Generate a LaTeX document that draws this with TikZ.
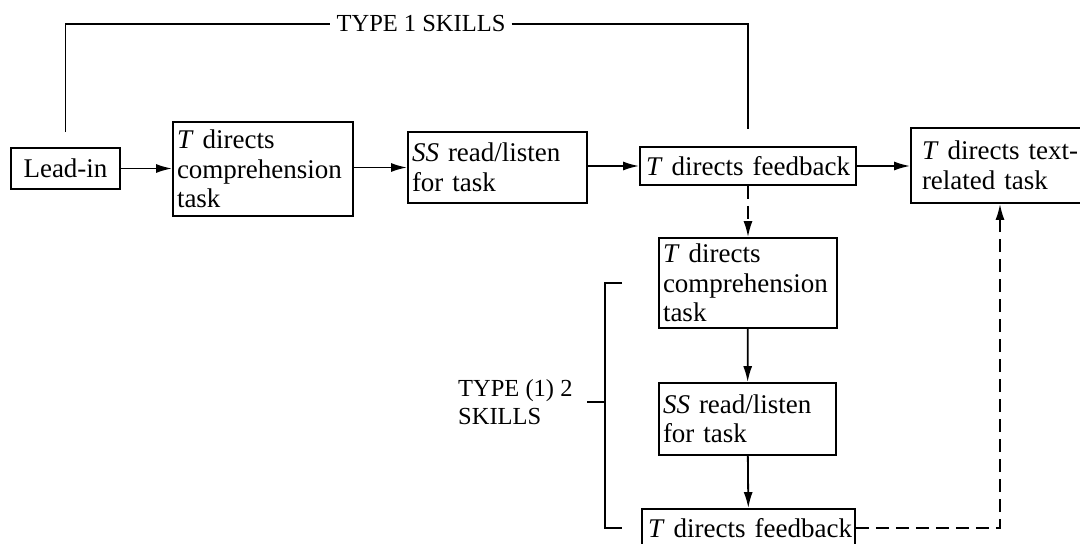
\documentclass[tikz,border=0pt]{standalone}
\usepackage{fontspec}
\setmainfont{Liberation Serif}
\usetikzlibrary{arrows.meta}
\newcommand\boxline[1]{\mbox{#1}}
\begin{document}
\begin{tikzpicture}[x=1pt,y=-1pt,
  box/.style={draw, line width=1.8pt, inner xsep=4pt, inner ysep=2pt, align=left,
    font=\fontsize{27}{29.5}\selectfont},
  lbl/.style={inner xsep=6pt, inner ysep=2pt, font=\fontsize{24.5}{28}\selectfont},
  conn/.style={line width=1.8pt},
  arr/.style={conn, -{Latex[length=16pt,width=9pt]}},
  dsh/.style={arr, dash pattern=on 13pt off 7pt}]
\useasboundingbox (0,0) rectangle (1080,544);
% top row
\node[box, align=center, minimum width=109pt, minimum height=41pt] (lead) at (65.5,168.5) {Lead-in};
\node[box, text width=172pt, minimum width=180pt, minimum height=94pt] (comp1) at (263,169) {\boxline{\textit{T} directs}\\\boxline{comprehension}\\\boxline{task}};
\node[box, text width=171pt, minimum width=179pt, minimum height=71pt] (ss1) at (497.5,167.5) {\boxline{\textit{SS} read/listen}\\\boxline{for task}};
\node[box, inner xsep=6pt, text width=204pt, minimum width=216pt, minimum height=38pt] (fb1) at (748,166) {\boxline{\textit{T} directs feedback}};
\node[box, text width=156pt, minimum width=178pt, minimum height=75pt] (txt) at (1000,165.5) {\boxline{\textit{T} directs text-}\\\boxline{related task}};
% column
\node[box, text width=170pt, minimum width=178pt, minimum height=90pt] (comp2) at (748,283) {\boxline{\textit{T} directs}\\\boxline{comprehension}\\\boxline{task}};
\node[box, text width=169pt, minimum width=177pt, minimum height=72pt] (ss2) at (747.5,419) {\boxline{\textit{SS} read/listen}\\\boxline{for task}};
\node[box, inner xsep=6pt, text width=201pt, minimum width=213pt, minimum height=38pt] (fb2) at (748.5,528) {\boxline{\textit{T} directs feedback}};
% labels
\node[lbl] (t1) at (421,24) {TYPE 1 SKILLS};
\node[lbl, align=left, anchor=west, inner xsep=4pt] (t2) at (454,402) {TYPE (1) 2\\SKILLS};
% connectors
\draw[arr] (lead.east) -- (lead.east -| comp1.west);
\draw[arr] (comp1.east |- ss1.west) -- (ss1.west);
\draw[arr] (ss1.east |- fb1.west) -- (fb1.west);
\draw[arr] (fb1.east) -- (fb1.east -| txt.west);
\draw[dsh] (fb1.south) -- (comp2.north);
\draw[arr] (comp2) -- (ss2);
\draw[arr] (ss2) -- (fb2);
\draw[dsh] (fb2.east) -| (txt.south);
\draw[conn] ([yshift=15pt]lead.north) |- (t1.west);
\draw[conn] (t1.east) -| ([yshift=17pt]fb1.north);
% bracket
\coordinate (btop) at (622,283);
\coordinate (bbot) at (622,528);
\coordinate (bv) at (605,402);
\coordinate (bl) at (587,402);
\draw[conn] (btop) -| (bv) |- (bbot);
\draw[conn] (bv) -- (bl);
\end{tikzpicture}
\end{document}
